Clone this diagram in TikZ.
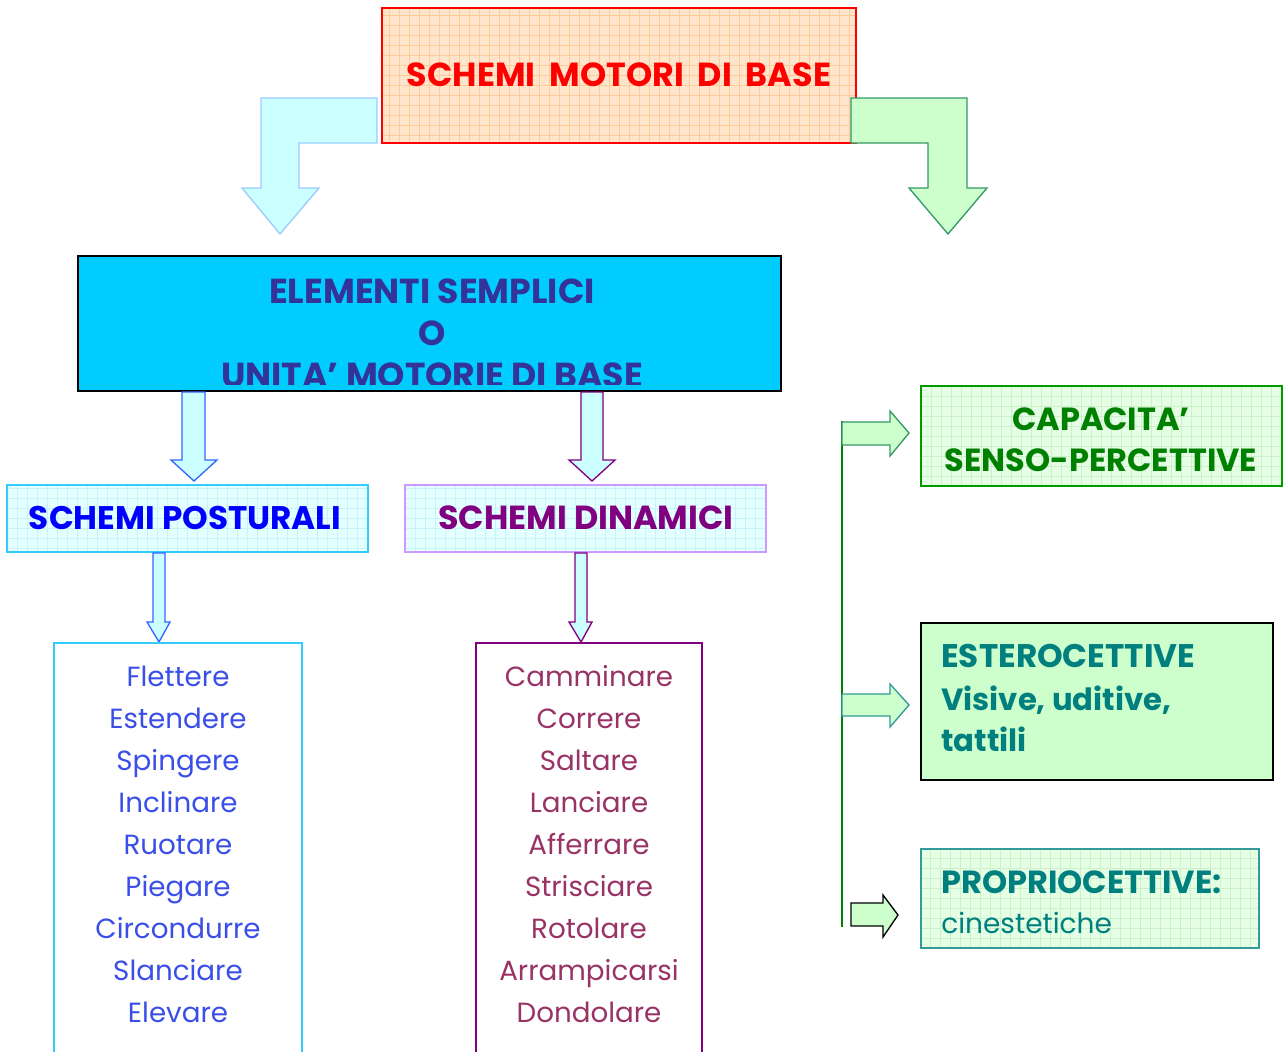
\documentclass[tikz,border=0pt]{standalone}
\usepackage{fontspec}
\setmainfont{Poppins}
\definecolor{peach}{HTML}{FFE5CC}
\definecolor{peachgrid}{HTML}{FFCC99}
\definecolor{redc}{HTML}{FF0000}
\definecolor{lcyan}{HTML}{CCFFFF}
\definecolor{lcyanb}{HTML}{99CCFF}
\definecolor{lgreen}{HTML}{CCFFCC}
\definecolor{seagr}{HTML}{339966}
\definecolor{skyb}{HTML}{00CCFF}
\definecolor{slateb}{HTML}{333399}
\definecolor{arrblue}{HTML}{3366FF}
\definecolor{purp}{HTML}{800080}
\definecolor{palecyan}{HTML}{E3FFFF}
\definecolor{palecyangrid}{HTML}{C8F2FA}
\definecolor{cyanb}{HTML}{33CCFF}
\definecolor{lilac}{HTML}{CC99FF}
\definecolor{royal}{HTML}{3A4FE8}
\definecolor{plum}{HTML}{993366}
\definecolor{greenc}{HTML}{008000}
\definecolor{greenb}{HTML}{009900}
\definecolor{palegreen}{HTML}{E5FFE5}
\definecolor{palegreengrid}{HTML}{CCF0CC}
\definecolor{tealc}{HTML}{007F7F}
\definecolor{tealb}{HTML}{339999}
\tikzset{
  gridfill/.style={path picture={\draw[#1,line width=0.5pt,step=7.5pt]
     (path picture bounding box.south west) grid (path picture bounding box.north east);}},
  boxnode/.style={rectangle,inner sep=0pt,line width=1.5pt},
  txt/.style={inner sep=0pt,align=center},
  ltxt/.style={inner sep=0pt,anchor=base west},
  blockarrow/.style={line width=1pt,line join=miter}
}
\begin{document}
\begin{tikzpicture}[x=0.75pt,y=-0.75pt]
\useasboundingbox (0,0) rectangle (1285,1051);

% ---- top box
\node[boxnode,draw=redc,fill=peach,gridfill=peachgrid,minimum width=355.5pt,minimum height=101.25pt] (top) at (619,75.5) {};
\node[txt,text=redc,font=\fontsize{25}{28}\selectfont\bfseries] (toptxt) at (619,75) {SCHEMI\hspace{0.42em}MOTORI\hspace{0.42em}DI\hspace{0.42em}BASE};

% ---- bent arrows
\draw[blockarrow,draw=lcyanb,fill=lcyan] (377,98) -- (261,98) -- (261,188) -- (242,188) -- (280,234) -- (319,188) -- (299,188) -- (299,143) -- (377,143) -- cycle;
\draw[blockarrow,draw=seagr,fill=lgreen] (851,98) -- (967,98) -- (967,188) -- (987,188) -- (948,234) -- (909,188) -- (928,188) -- (928,143) -- (851,143) -- cycle;

% ---- blue box
\node[boxnode,draw=black,fill=skyb,minimum width=527.25pt,minimum height=101.25pt] (elem) at (429.5,323.5) {};
\begin{scope}
\clip (78,256) rectangle (781,384);
\node[txt,text=slateb,font=\fontsize{26}{31.5}\selectfont\bfseries] (elemtxt) at (432,333) {ELEMENTI SEMPLICI\\O\\UNITA' MOTORIE DI BASE};
\end{scope}

% ---- arrows below blue box
\draw[blockarrow,draw=arrblue,fill=lcyan] (182,392) -- (205,392) -- (205,460) -- (217,460) -- (194,481) -- (171,460) -- (182,460) -- cycle;
\draw[blockarrow,draw=purp,fill=lcyan] (581,392) -- (603,392) -- (603,460) -- (615,460) -- (592,481) -- (569,460) -- (581,460) -- cycle;

% ---- schemi boxes
\node[boxnode,draw=cyanb,fill=palecyan,gridfill=palecyangrid,minimum width=270.75pt,minimum height=50.25pt] (post) at (187.5,518.5) {};
\node[txt,text=blue,font=\fontsize{24.5}{28}\selectfont\bfseries] (posttxt) at (185,518) {SCHEMI POSTURALI};
\node[boxnode,draw=lilac,fill=palecyan,gridfill=palecyangrid,minimum width=270.75pt,minimum height=50.25pt] (din) at (585.5,518.5) {};
\node[txt,text=purp,font=\fontsize{25}{28}\selectfont\bfseries] (dintxt) at (586,518) {SCHEMI DINAMICI};

% ---- arrows to lists
\draw[blockarrow,draw=arrblue,fill=lcyan] (153,553) -- (165,553) -- (165,622) -- (170,622) -- (159,642) -- (147,622) -- (153,622) -- cycle;
\draw[blockarrow,draw=purp,fill=lcyan] (575,553) -- (587,553) -- (587,622) -- (592,622) -- (581,642) -- (569,622) -- (575,622) -- cycle;

% ---- lists
\node[boxnode,draw=cyanb,fill=white,minimum width=186pt,minimum height=309pt] (listp) at (178,849) {};
\node[txt,text=royal,font=\fontsize{20.8}{31.5}\selectfont] (listptxt) at (178,844) {Flettere\\Estendere\\Spingere\\Inclinare\\Ruotare\\Piegare\\Circondurre\\Slanciare\\Elevare};
\node[boxnode,draw=purp,fill=white,minimum width=169.5pt,minimum height=309pt] (listd) at (589,849) {};
\node[txt,text=plum,font=\fontsize{20.8}{31.5}\selectfont] (listdtxt) at (589,844) {Camminare\\Correre\\Saltare\\Lanciare\\Afferrare\\Strisciare\\Rotolare\\Arrampicarsi\\Dondolare};

% ---- green line
\coordinate (gtop) at (842,421);
\coordinate (gbot) at (842,927);
\draw[greenc,line width=2pt] (gtop) -- (gbot);

% ---- right boxes
\node[boxnode,draw=greenb,fill=palegreen,gridfill=palegreengrid,minimum width=270.75pt,minimum height=75pt] (cap) at (1101.5,436) {};
\node[txt,text=greenc,font=\fontsize{24}{31}\selectfont\bfseries] (captxt) at (1101,440) {CAPACITA'\\SENSO-PERCETTIVE};
\node[boxnode,draw=black,fill=lgreen,minimum width=264pt,minimum height=117.75pt] (est) at (1097,701.5) {};
\node[ltxt,text=tealc,font=\fontsize{24.5}{28}\selectfont\bfseries] (est1) at (941,667) {ESTEROCETTIVE};
\node[ltxt,text=tealc,font=\fontsize{23}{28}\selectfont\bfseries] (est2) at (941,710) {Visive, uditive,};
\node[ltxt,text=tealc,font=\fontsize{23}{28}\selectfont\bfseries] (est3) at (941,751) {tattili};
\node[boxnode,draw=tealb,fill=palegreen,gridfill=palegreengrid,minimum width=253.5pt,minimum height=74.25pt] (prop) at (1090,898.5) {};
\node[ltxt,text=tealc,font=\fontsize{24}{28}\selectfont\bfseries] (prop1) at (941,893) {PROPRIOCETTIVE:};
\node[ltxt,text=tealc,font=\fontsize{21}{28}\selectfont] (prop2) at (941,933) {cinestetiche};

% ---- right arrows
\draw[blockarrow,draw=seagr,fill=lgreen] (842,422) -- (890,422) -- (890,411) -- (909,433) -- (890,456) -- (890,445) -- (842,445) -- cycle;
\draw[blockarrow,draw=tealb,fill=lgreen] (842,694) -- (890,694) -- (890,684) -- (909,705) -- (890,727) -- (890,716) -- (842,716) -- cycle;
\draw[blockarrow,draw=black,fill=lgreen] (851,903) -- (883,903) -- (883,895) -- (898,915) -- (883,937) -- (883,926) -- (851,926) -- cycle;
\end{tikzpicture}
\end{document}
